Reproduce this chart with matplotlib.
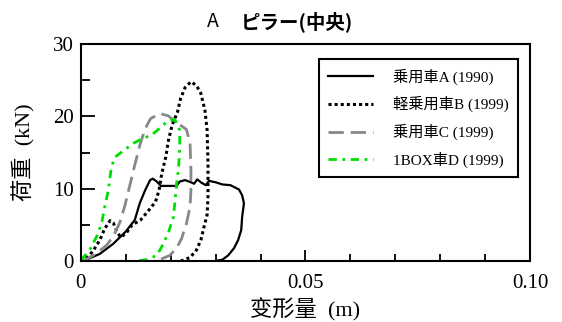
import matplotlib
matplotlib.use("Agg")
import matplotlib.pyplot as plt
from matplotlib.ticker import MultipleLocator, FixedLocator

# 荷重-変形量カーブ (ピラー中央)
a_x = [0, 0.0008, 0.0042, 0.0072, 0.0100, 0.0120, 0.0131, 0.0143, 0.0154, 0.0160,
       0.0169, 0.0178, 0.0194, 0.0213, 0.0220, 0.0232, 0.0245, 0.0252, 0.0259, 0.0267,
       0.0278, 0.0285, 0.0300, 0.0315, 0.0333, 0.0352, 0.0359, 0.0363, 0.0359, 0.0357,
       0.0350, 0.0341, 0.0328, 0.0315, 0.0298]
a_y = [0, 0.1, 1.0, 2.4, 4.1, 5.7, 8.0, 9.8, 11.2, 11.4,
       11.0, 10.4, 10.4, 10.4, 11.0, 11.2, 10.9, 10.7, 11.3, 10.9,
       10.5, 11.1, 10.9, 10.6, 10.5, 9.9, 9.1, 8.0, 6.1, 4.3,
       2.9, 1.8, 0.8, 0.2, 0]

b_x = [0, 0.0008, 0.0027, 0.0042, 0.0053, 0.0065, 0.0072, 0.0079, 0.0088, 0.0100,
       0.0114, 0.0133, 0.0152, 0.0166, 0.0174, 0.0180, 0.0189, 0.0195, 0.0203, 0.0215,
       0.0222, 0.0232, 0.0245, 0.0257, 0.0267, 0.0276, 0.0281, 0.0283, 0.0283, 0.0281,
       0.0274, 0.0267, 0.0257, 0.0243, 0.0222]
b_y = [0, 0.1, 1.4, 2.9, 4.5, 5.6, 5.3, 4.3, 3.3, 3.8,
       5.0, 5.7, 7.1, 8.2, 9.8, 12.1, 14.4, 16.7, 18.8, 20.6,
       22.5, 24.0, 24.8, 24.3, 23.2, 20.9, 18.1, 13.5, 8.9, 6.4,
       4.7, 2.9, 1.5, 0.5, 0]

c_x = [0, 0.0008, 0.0035, 0.0057, 0.0072, 0.0087, 0.0098, 0.0109, 0.0120, 0.0131,
       0.0143, 0.0155, 0.0176, 0.0194, 0.0217, 0.0235, 0.0243, 0.0245, 0.0245, 0.0243,
       0.0235, 0.0224, 0.0213, 0.0198, 0.0183, 0.0169]
c_y = [0, 0.1, 1.1, 2.2, 3.4, 5.4, 7.7, 10.5, 13.3, 16.0,
       18.3, 19.7, 20.4, 20.1, 19.0, 18.2, 16.3, 12.6, 9.8, 7.5,
       5.2, 3.1, 1.8, 0.8, 0.4, 0]

d_x = [0, 0.0020, 0.0035, 0.0046, 0.0053, 0.0061, 0.0065, 0.0068, 0.0076, 0.0087,
       0.0102, 0.0117, 0.0139, 0.0157, 0.0176, 0.0192, 0.0209, 0.0220, 0.0220, 0.0219,
       0.0217, 0.0213, 0.0209, 0.0206, 0.0194, 0.0180, 0.0169, 0.0146, 0.0117]
d_y = [0.1, 1.6, 3.4, 5.2, 7.5, 9.8, 11.7, 13.0, 14.4, 14.9,
       15.6, 16.3, 17.0, 17.4, 18.4, 19.3, 19.6, 18.1, 16.3, 14.4,
       12.6, 10.7, 8.0, 6.1, 3.8, 2.0, 0.8, 0.2, 0]

labels = ["乗用車A (1990)", "軽乗用車B (1999)", "乗用車C (1999)", "1BOX車D (1999)"]
x_ticks = [0, 0.05, 0.10]
x_tick_labels = ["0", "0.05", "0.10"]
y_ticks = [0, 10, 20, 30]

mixed = ["Liberation Serif", "Noto Sans CJK JP"]

fig = plt.figure(figsize=(5.62, 3.22), dpi=100)
ax = fig.add_axes([0.144, 0.189, 0.799, 0.674])

ax.plot(a_x, a_y, color="black", lw=1.6, ls="-", label=labels[0])
ax.plot(b_x, b_y, color="black", lw=2.2, ls=(0, (1, 1)), label=labels[1])
ax.plot(c_x, c_y, color="#888888", lw=2.0, ls=(0, (5.5, 2.5)), label=labels[2])
ax.plot(d_x, d_y, color="#00dd00", lw=2.0, ls=(0, (3, 2, 1, 2)), label=labels[3])

ax.set_xlim(0, 0.10)
ax.set_ylim(0, 30)

# 目盛り (内向き、下と左のみ)
ax.xaxis.set_major_locator(FixedLocator(x_ticks))
ax.xaxis.set_minor_locator(MultipleLocator(0.01))
ax.yaxis.set_major_locator(FixedLocator(y_ticks))
ax.yaxis.set_minor_locator(MultipleLocator(5))
ax.set_xticklabels(x_tick_labels)
ax.tick_params(axis="x", which="major", direction="in", length=8, width=1.3, pad=9)
ax.tick_params(axis="x", which="minor", direction="in", length=5, width=1.3)
ax.tick_params(axis="y", which="major", direction="in", length=10, width=1.3, pad=5)
ax.tick_params(axis="y", which="minor", direction="in", length=6.5, width=1.3)
for lab in ax.get_xticklabels() + ax.get_yticklabels():
    lab.set_family("Liberation Serif")
    lab.set_fontsize(15)
for sp in ax.spines.values():
    sp.set_linewidth(1.5)

ax.set_xlabel("变形量  (m)", family=mixed, fontsize=16, labelpad=4)
ax.set_ylabel("荷重  (kN)", family=mixed, fontsize=16, labelpad=13)

leg = ax.legend(loc="upper left", bbox_to_anchor=(0.530, 0.931), borderaxespad=0,
                prop={"family": mixed, "size": 11}, handlelength=2.95,
                handletextpad=1.3, labelspacing=0.75, borderpad=0.6,
                fancybox=False, framealpha=1, edgecolor="black")
leg.get_frame().set_linewidth(1.5)

# タイトル
fig.text(0.379, 0.932, "A", family="Noto Sans CJK JP", fontsize=14, ha="center", va="center")
fig.text(0.428, 0.932, "ピラー(中央)", family="Noto Sans CJK JP", fontweight="bold",
         fontsize=14, ha="left", va="center")

fig.savefig("out.png", dpi=100)
